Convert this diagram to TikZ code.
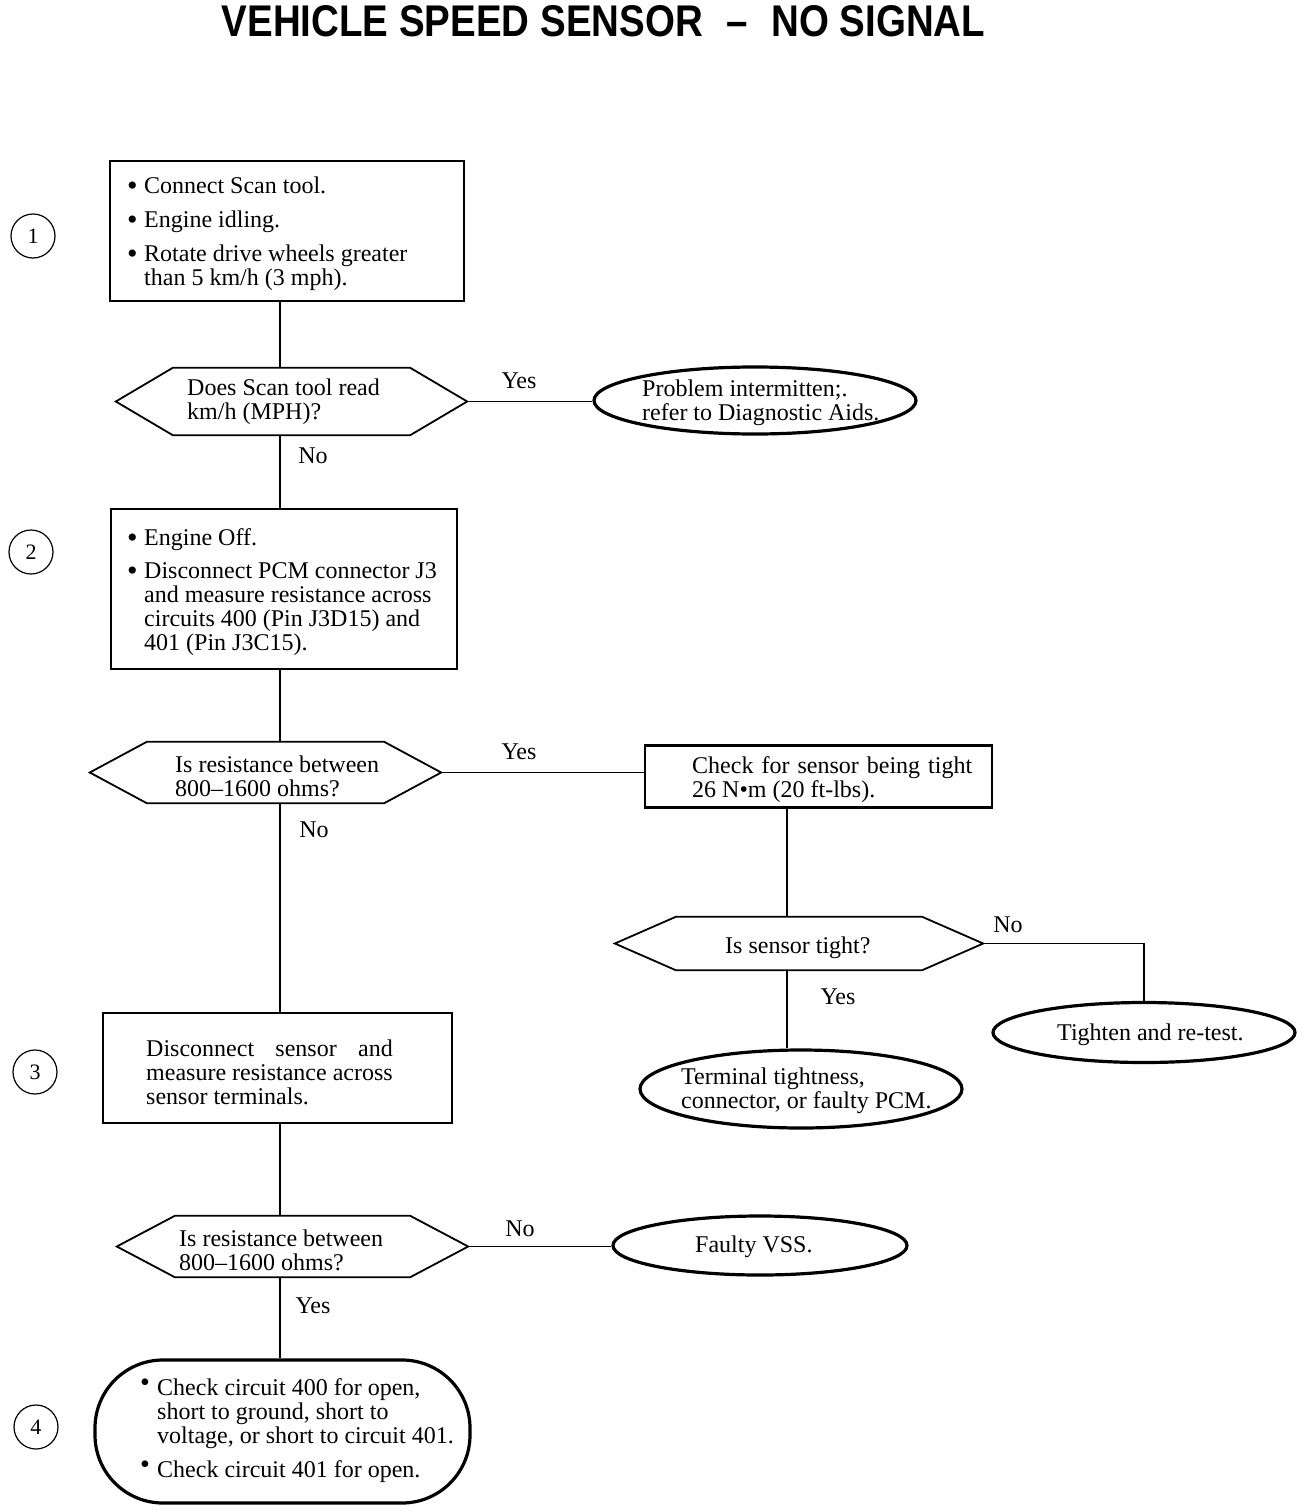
\documentclass[tikz,border=0pt]{standalone}
\usepackage{fontspec}
\usepackage{graphicx}
\setmainfont{Liberation Serif}
\newfontfamily\titlefont{Liberation Sans}
\usetikzlibrary{shapes.geometric}
\tikzset{
  stepbox/.style={draw, line width=2.2pt, rectangle, inner sep=0pt},
  hexbox/.style={rectangle, inner sep=0pt},
  endoval/.style={draw, line width=3.2pt, ellipse, inner sep=0pt},
  endround/.style={draw, line width=3.2pt, rectangle, rounded corners=68pt, inner sep=0pt},
  numcirc/.style={draw, circle, line width=1.2pt, minimum size=44pt, inner sep=0pt, font=\fontsize{22}{22}\selectfont},
  txt/.style={anchor=west, inner sep=0pt, align=left, font=\fontsize{24}{24}\selectfont},
  lbl/.style={inner sep=0pt, font=\fontsize{24}{24}\selectfont},
  conn/.style={line width=1.5pt},
  hexline/.style={line width=1.8pt, line join=miter},
}
\newcommand\hexdraw[2]{\draw[hexline] (#1.west) -- ([xshift=#2]#1.north west) -- ([xshift=-#2]#1.north east) -- (#1.east) -- ([xshift=-#2]#1.south east) -- ([xshift=#2]#1.south west) -- cycle;}
\newcommand\bul{\makebox[16pt][l]{\hspace*{-1pt}\smash{\fontsize{30}{30}\selectfont\raisebox{-2.5pt}{•}}}}
\newcommand\hbul{\makebox[16pt][l]{\hspace*{-1pt}\smash{\fontsize{28}{28}\selectfont\raisebox{4pt}{•}}}}
\begin{document}
\begin{tikzpicture}[x=1pt,y=-1pt]
\useasboundingbox (0,0) rectangle (1312,1512);
\coordinate (trunk) at (280,0);
\coordinate (branch) at (787,0);

% title
\node[inner sep=0pt] (title) at (603.5,21) {\resizebox{763pt}{31pt}{\titlefont\bfseries VEHICLE SPEED SENSOR\, \,–\, \,NO SIGNAL}};

% step numbers
\node[numcirc] (c1) at (33,236) {1};
\node[numcirc] (c2) at (31,552) {2};
\node[numcirc] (c3) at (35,1072) {3};
\node[numcirc] (c4) at (36,1427) {4};

% step 1
\node[stepbox, minimum width=354pt, minimum height=140pt] (b1) at (287,231) {};
\node[txt] (b1t) at (128,233.5) {\bul Connect Scan tool.\\[10pt]\bul Engine idling.\\[10pt]\bul Rotate drive wheels greater\\\hspace*{16pt}than 5 km/h (3 mph).};

\node[hexbox, minimum width=351pt, minimum height=67pt] (d1) at (291.5,401.5) {};
\hexdraw{d1}{57pt}
\node[txt] (d1t) at (187,401.5) {Does Scan tool read\\km/h (MPH)?};

\node[endoval, minimum width=322pt, minimum height=67pt] (e1) at (755,400.5) {};
\node[txt] (e1t) at (642,402.5) {Problem intermitten;.\\refer to Diagnostic Aids.};

% step 2
\node[stepbox, minimum width=346pt, minimum height=160pt] (b2) at (284,589) {};
\node[txt] (b2t) at (128,592) {\bul Engine Off.\\[9pt]\bul Disconnect PCM connector J3\\\hspace*{16pt}and measure resistance across\\\hspace*{16pt}circuits 400 (Pin J3D15) and\\\hspace*{16pt}401 (Pin J3C15).};

\node[hexbox, minimum width=351pt, minimum height=61pt] (d2) at (265.5,772.5) {};
\hexdraw{d2}{57pt}
\node[txt] (d2t) at (175,776.5) {Is resistance between\\800–1600 ohms?};

\node[stepbox, minimum width=347pt, minimum height=62pt] (chk) at (818.5,776.5) {};
\node[txt] (chkt) at (692,779.5) {\makebox[280pt][s]{Check for sensor being tight}\\26 N•m (20 ft-lbs).};

\node[hexbox, minimum width=368pt, minimum height=53pt] (d3) at (799,943.5) {};
\hexdraw{d3}{61pt}
\node[txt] (d3t) at (725,948) {Is sensor tight?};

\node[endoval, minimum width=302pt, minimum height=60pt] (tig) at (1144,1032.5) {};
\node[txt] (tigt) at (1057,1035) {Tighten and re-test.};

\node[endoval, minimum width=322pt, minimum height=78pt] (ter) at (801,1089) {};
\node[txt] (tert) at (681,1091) {Terminal tightness,\\connector, or faulty PCM.};

% step 3
\node[stepbox, minimum width=349pt, minimum height=110pt] (b3) at (277.5,1068) {};
\node[txt] (b3t) at (146,1072) {{\setbox0\hbox{measure resistance across}\makebox[\wd0][s]{Disconnect sensor and}}\\measure resistance across\\sensor terminals.};

\node[hexbox, minimum width=351pt, minimum height=61pt] (d4) at (292.5,1246.5) {};
\hexdraw{d4}{58pt}
\node[txt] (d4t) at (179,1250.5) {Is resistance between\\800–1600 ohms?};

\node[endoval, minimum width=294pt, minimum height=59pt] (fau) at (760,1245.5) {};
\node[txt] (faut) at (695,1247) {Faulty VSS.};

% step 4
\node[endround, minimum width=375pt, minimum height=143pt] (e4) at (282.5,1431.5) {};
\node[txt] (e4t) at (141,1430.5) {\hbul Check circuit 400 for open,\\\hspace*{16pt}short to ground, short to\\\hspace*{16pt}voltage, or short to circuit 401.\\[10pt]\hbul Check circuit 401 for open.};

% connectors
\draw[conn] (b1.south -| trunk) -- (d1.north -| trunk);
\draw[conn] (d1.east) -- (d1.east -| e1.west);
\draw[conn] (d1.south -| trunk) -- (b2.north -| trunk);
\draw[conn] (b2.south -| trunk) -- (d2.north -| trunk);
\draw[conn] (d2.east) -- (d2.east -| chk.west);
\draw[conn] (chk.south -| branch) -- (d3.north -| branch);
\draw[conn] (d3.east) -| (tig.north);
\draw[conn] (d3.south -| branch) -- (ter.north -| branch);
\draw[conn] (d2.south -| trunk) -- (b3.north -| trunk);
\draw[conn] (b3.south -| trunk) -- (d4.north -| trunk);
\draw[conn] (d4.east) -- (d4.east -| fau.west);
\draw[conn] (d4.south -| trunk) -- (e4.north -| trunk);

% branch labels
\node[lbl] (l1) at (519,381) {Yes};
\node[lbl] (l2) at (313,456) {No};
\node[lbl] (l3) at (519,752) {Yes};
\node[lbl] (l4) at (314,830) {No};
\node[lbl] (l5) at (1008,925) {No};
\node[lbl] (l6) at (838,997) {Yes};
\node[lbl] (l7) at (520,1229) {No};
\node[lbl] (l8) at (313,1306) {Yes};
\end{tikzpicture}
\end{document}
